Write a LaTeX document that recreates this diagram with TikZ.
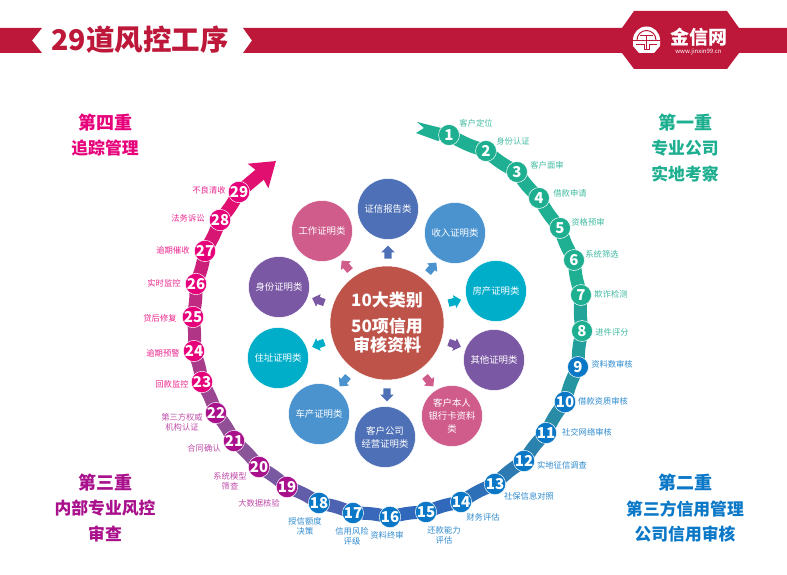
\documentclass[tikz,border=0pt]{standalone}
\usepackage{fontspec}
\setmainfont{Noto Sans CJK SC}
\usetikzlibrary{arrows.meta,shapes.arrows,backgrounds}

\definecolor{bannerred}{HTML}{BD1839}
\definecolor{bandteal}{HTML}{1FAF92}
\definecolor{bandblue}{HTML}{3069BC}
\definecolor{bandplum}{HTML}{8A5499}
\definecolor{bandpink}{HTML}{E00F70}
\definecolor{tealdark}{HTML}{1EAE90}
\definecolor{bluedark}{HTML}{0A77C7}
\definecolor{plumdark}{HTML}{A8108C}
\definecolor{pinkdark}{HTML}{E6007A}
\definecolor{petalnavy}{HTML}{4E70B6}
\definecolor{petalsky}{HTML}{4A93CF}
\definecolor{petalcyan}{HTML}{00AECA}
\definecolor{petalviolet}{HTML}{7B58A4}
\definecolor{petalrose}{HTML}{D05C8C}
\definecolor{corered}{HTML}{BE5349}

\tikzset{
	badge/.style={circle,draw=white,line width=.5pt,minimum size=21pt,inner sep=0pt,text=white,font=\fontsize{15}{15}\selectfont\bfseries},
	steplabel/.style={align=center,inner sep=0pt,font=\fontsize{8.3}{10}\selectfont},
	petal/.style={circle,draw=white,line width=.5pt,minimum size=61pt,inner sep=0pt,align=center,text=white,font=\fontsize{9.4}{13}\selectfont},
	band/.style={line width=13pt,shorten <=-6pt,shorten >=-6pt},
	pointer/.style={single arrow,minimum height=13pt,inner sep=3.5pt,single arrow head extend=3pt},
	heading/.style={align=center,font=\fontsize{16.8}{25.5}\selectfont\bfseries}
}

\begin{document}
\begin{tikzpicture}[x=1pt,y=-1pt]
\useasboundingbox (0,0) rectangle (787,575);

% banner
\fill[bannerred] (0,28) -- (42,28) -- (32,40.5) -- (42,53) -- (0,53) -- cycle;
\fill[bannerred] (243,28) -- (787,28) -- (787,53) -- (243,53) -- (252,40.5) -- cycle;
\fill[bannerred] (622,28) -- (634,11) -- (727,11) -- (739,28) -- (739,53) -- (727,69) -- (634,69) -- (622,53) -- cycle;
\node[text=bannerred,font=\fontsize{28.5}{30}\selectfont\bfseries] (title) at (140,40) {29道风控工序};

% logo
\fill[white] (633,40) arc[start angle=180,end angle=0,radius=13.5pt] -- (660,46) -- (654,53) -- (639,53) -- (633,46) -- cycle;
\draw[bannerred,line width=1pt] (637,40) arc[start angle=180,end angle=0,radius=9.5pt];
\draw[bannerred,line width=1pt] (633,41) -- (660,41) (640,36) -- (653,36) (646.5,36) -- (646.5,49) (636,45) -- (644,45) -- (644,50) -- (649,50) -- (649,45) -- (657,45);
\node[text=white,font=\fontsize{19}{19}\selectfont\bfseries] (logoname) at (698.5,37) {金信网};
\node[text=white,font=\fontsize{6}{6}\selectfont] (logourl) at (698.5,52) {www.jinxin99.cn};

% tail of the ring
\coordinate (tailtop) at (417,122);
\coordinate (tailnotch) at (424,128);
\coordinate (tailbottom) at (416,133);
\fill[bandteal] (tailtop) -- (441,128) -- (449,135) -- (438,141) -- (tailbottom) -- (tailnotch) -- cycle;

\begin{scope}[every node/.style={badge,fill=tealdark}]
	\node (st1) at (449,135) {1};
	\node (st2) at (486,151) {2};
	\node (st3) at (517,172) {3};
	\node (st4) at (539,198) {4};
	\node (st5) at (560,228) {5};
	\node (st6) at (574,260) {6};
	\node (st7) at (581,295) {7};
	\node (st8) at (582,331) {8};
\end{scope}

\begin{scope}[every node/.style={badge,fill=bluedark}]
	\node (st9) at (578,367) {9};
	\node (st10) at (565,402) {10};
	\node (st11) at (546,433) {11};
	\node (st12) at (524,461) {12};
	\node (st13) at (495,484) {13};
	\node (st14) at (461,502) {14};
	\node (st15) at (426,512) {15};
	\node (st16) at (390,517) {16};
	\node (st17) at (353,513) {17};
	\node (st18) at (319,503) {18};
\end{scope}

\begin{scope}[every node/.style={badge,fill=plumdark}]
	\node (st19) at (287,487) {19};
	\node (st20) at (259,467) {20};
	\node (st21) at (234,441) {21};
	\node (st22) at (216,413) {22};
\end{scope}

\begin{scope}[every node/.style={badge,fill=pinkdark}]
	\node (st23) at (202,382) {23};
	\node (st24) at (194,351) {24};
	\node (st25) at (193,317) {25};
	\node (st26) at (196,284) {26};
	\node (st27) at (205,251) {27};
	\node (st28) at (220,220) {28};
	\node (st29) at (239,192) {29};
\end{scope}

\begin{scope}[on background layer={band}]
	\draw[bandteal] (st1) to[bend right=5] (st2);
	\draw[bandteal] (st2) to[bend right=5] (st3);
	\draw[bandteal] (st3) to[bend right=5] (st4);
	\draw[bandteal] (st4) to[bend right=5] (st5);
	\draw[bandteal] (st5) to[bend right=5] (st6);
	\draw[bandteal] (st6) to[bend right=5] (st7);
	\draw[bandteal!85!bandblue] (st7) to[bend right=5] (st8);
	\draw[bandteal!75!bandblue] (st8) to[bend right=5] (st9);
	\draw[bandteal!65!bandblue] (st9) to[bend right=5] (st10);
	\draw[bandteal!50!bandblue] (st10) to[bend right=5] (st11);
	\draw[bandteal!35!bandblue] (st11) to[bend right=5] (st12);
	\draw[bandteal!25!bandblue] (st12) to[bend right=5] (st13);
	\draw[bandteal!10!bandblue] (st13) to[bend right=5] (st14);
	\draw[bandblue] (st14) to[bend right=5] (st15);
	\draw[bandblue] (st15) to[bend right=5] (st16);
	\draw[bandblue!90!bandplum] (st16) to[bend right=5] (st17);
	\draw[bandblue!70!bandplum] (st17) to[bend right=5] (st18);
	\draw[bandblue!45!bandplum] (st18) to[bend right=5] (st19);
	\draw[bandblue!20!bandplum] (st19) to[bend right=5] (st20);
	\draw[bandplum] (st20) to[bend right=5] (st21);
	\draw[bandplum!92!bandpink] (st21) to[bend right=5] (st22);
	\draw[bandplum!80!bandpink] (st22) to[bend right=5] (st23);
	\draw[bandplum!65!bandpink] (st23) to[bend right=5] (st24);
	\draw[bandplum!55!bandpink] (st24) to[bend right=5] (st25);
	\draw[bandplum!40!bandpink] (st25) to[bend right=5] (st26);
	\draw[bandplum!25!bandpink] (st26) to[bend right=5] (st27);
	\draw[bandplum!10!bandpink] (st27) to[bend right=5] (st28);
	\draw[bandpink] (st28) to[bend right=5] (st29);
	% head of the ring
	\coordinate (ringtip) at (276,161);
	\draw[shorten >=0pt,bandpink,-{Stealth[length=23pt,width=31pt,inset=3pt]}] (st29) -- (ringtip);
\end{scope}

\begin{scope}[every node/.style={steplabel,text=tealdark!85!white}]
	\node (lab1) at (476,123) {客户定位};
	\node (lab2) at (513,141) {身份认证};
	\node (lab3) at (547,165) {客户面审};
	\node (lab4) at (570,193) {借款申请};
	\node (lab5) at (588,222) {资格预审};
	\node (lab6) at (602,254) {系统筛选};
	\node (lab7) at (611,294) {欺诈检测};
	\node (lab8) at (612,332) {进件评分};
\end{scope}

\begin{scope}[every node/.style={steplabel,text=bluedark!85!white}]
	\node (lab9) at (612,364) {资料数审核};
	\node (lab10) at (603,401) {借款资质审核};
	\node (lab11) at (587,432) {社交网络审核};
	\node (lab12) at (562,465) {实地征信调查};
	\node (lab13) at (529,496) {社保信息对照};
	\node (lab14) at (483,517) {财务评估};
	\node (lab15) at (444,535) {还款能力\\评估};
	\node (lab16) at (387,535) {资料终审};
	\node (lab17) at (352,536) {信用风险\\评级};
	\node (lab18) at (305,526) {授信额度\\决策};
\end{scope}

\begin{scope}[every node/.style={steplabel,text=plumdark!75!white}]
	\node (lab19) at (259,503) {大数据核验};
	\node (lab20) at (230,481) {系统模型\\筛查};
	\node (lab21) at (204,448) {合同确认};
	\node (lab22) at (182,422) {第三方权威\\机构认证};
\end{scope}

\begin{scope}[every node/.style={steplabel,text=pinkdark!85!white}]
	\node (lab23) at (172,384) {回款监控};
	\node (lab24) at (163,353) {逾期预警};
	\node (lab25) at (160,318) {贷后修复};
	\node (lab26) at (164,283) {实时监控};
	\node (lab27) at (173,250) {逾期催收};
	\node (lab28) at (188,218) {法务诉讼};
	\node (lab29) at (209,190) {不良清收};
\end{scope}

% centre and petals
\node[circle,draw=white,line width=.5pt,fill=corered,minimum size=114pt,align=center,inner sep=0pt,text=white,font=\fontsize{17}{19}\selectfont\bfseries] (core) at (387,323) {10大类别\\[7pt]50项信用\\审核资料};

\node[petal,fill=petalnavy] (credit) at (388,209) {证信报告类};
\node[petal,fill=petalsky] (income) at (455,233) {收入证明类};
\node[petal,fill=petalcyan] (house) at (496,291) {房产证明类};
\node[petal,fill=petalviolet] (other) at (494,360) {其他证明类};
\node[petal,fill=petalrose] (bank) at (452,416) {客户本人\\银行卡资料\\类};
\node[petal,fill=petalnavy] (company) at (385,437) {客户公司\\经营证明类};
\node[petal,fill=petalsky] (car) at (319,414) {车产证明类};
\node[petal,fill=petalcyan] (address) at (278,358) {住址证明类};
\node[petal,fill=petalviolet] (identity) at (279,287) {身份证明类};
\node[petal,fill=petalrose] (work) at (322,231) {工作证明类};

\node[pointer,fill=petalnavy,rotate=90] (ptcredit) at (388,254) {};
\node[pointer,fill=petalsky,rotate=50] (ptincome) at (431,269) {};
\node[pointer,fill=petalcyan,rotate=15] (pthouse) at (453,302) {};
\node[pointer,fill=petalviolet,rotate=-20] (ptother) at (453,344) {};
\node[pointer,fill=petalrose,rotate=-50] (ptbank) at (428,380) {};
\node[pointer,fill=petalnavy,rotate=-90] (ptcompany) at (387,393) {};
\node[pointer,fill=petalsky,rotate=-130] (ptcar) at (345,380) {};
\node[pointer,fill=petalcyan,rotate=-160] (ptaddress) at (320,344) {};
\node[pointer,fill=petalviolet,rotate=160] (ptidentity) at (320,301) {};
\node[pointer,fill=petalrose,rotate=130] (ptwork) at (347,267) {};

% headings
\node[heading,text=pinkdark] (fourth) at (105,135) {\fontsize{18}{27}\selectfont 第四重\\追踪管理};
\node[heading,text=tealdark] (first) at (685,148) {\fontsize{18}{25.5}\selectfont 第一重\\专业公司\\实地考察};
\node[heading,text=bluedark] (second) at (685,508.5) {\fontsize{18}{25.5}\selectfont 第二重\\第三方信用管理\\公司信用审核};
\node[heading,text=plumdark] (third) at (105,508) {\fontsize{18}{25.5}\selectfont 第三重\\内部专业风控\\审查};

\end{tikzpicture}
\end{document}
